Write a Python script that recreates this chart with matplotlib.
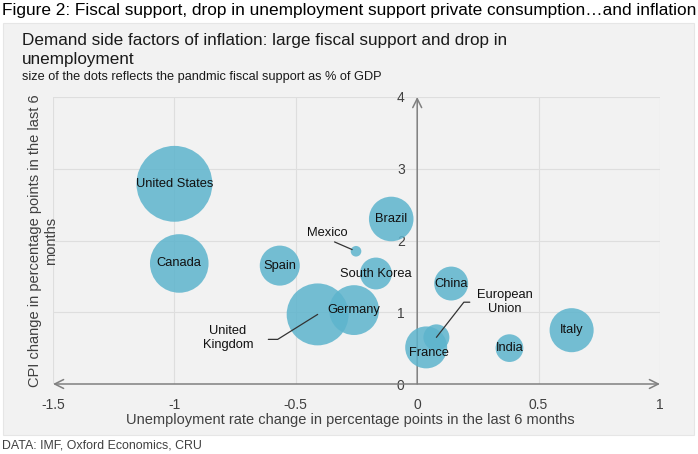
import matplotlib
matplotlib.use("Agg")
import matplotlib.pyplot as plt
from matplotlib.patches import Rectangle

plt.rcParams['font.family'] = ['Liberation Sans', 'DejaVu Sans']

# data
countries = ["United States", "Canada", "Spain", "Mexico", "Brazil", "South Korea",
             "United Kingdom", "Germany", "China", "European Union", "France", "India", "Italy"]
unemp_change = [-1.00, -0.98, -0.566, -0.252, -0.107, -0.17, -0.41, -0.26, 0.14, 0.079, 0.037, 0.38, 0.636]
cpi_change = [2.79, 1.68, 1.65, 1.85, 2.30, 1.54, 0.97, 1.03, 1.40, 0.65, 0.51, 0.50, 0.75]
fiscal_support = [25.5, 15.2, 7.1, 0.5, 8.8, 4.5, 17.0, 11.0, 5.1, 3.0, 7.8, 3.4, 8.6]

x_ticks = [-1.5, -1, -0.5, 0, 0.5, 1]
x_tick_labels = ["-1.5", "-1", "-0.5", "0", "0.5", "1"]
y_ticks = [0, 1, 2, 3, 4]

# labels that sit on the bubble vs. labels with a leader line
inline_labels = {"United States": (0, 0), "Canada": (0, 0), "Spain": (0, 0), "Brazil": (0, 0),
                 "South Korea": (0, 0), "Germany": (0, 0), "China": (0, 0), "France": (0.01, -0.08),
                 "India": (0, 0), "Italy": (0, 0)}
callouts = {"Mexico": ("Mexico", (-0.372, 2.11)),
            "United Kingdom": ("United\nKingdom", (-0.78, 0.64)),
            "European Union": ("European\nUnion", (0.36, 1.14))}

W, H = 698, 454
fig = plt.figure(figsize=(W / 100, H / 100), dpi=100)
fig.patches.append(Rectangle((3 / W, 1 - 435 / H), 691 / W, 412 / H, transform=fig.transFigure,
                             facecolor="#f2f2f2", edgecolor="#e6e6e6", lw=0.8, zorder=-5))

ax = fig.add_axes([53 / W, 1 - 384 / H, 607 / W, 287 / H])
ax.set_facecolor("none")

bubble_size = [v * 117 for v in fiscal_support]
ax.scatter(unemp_change, cpi_change, s=bubble_size, color="#5db4cd", alpha=0.85,
           edgecolors="none", zorder=3)

for name, x, y in zip(countries, unemp_change, cpi_change):
    if name in inline_labels:
        dx, dy = inline_labels[name]
        ax.text(x + dx, y + dy, name, ha="center", va="center", fontsize=9.3, color="#111111", zorder=4)
    else:
        text, pos = callouts[name]
        if name == "Mexico":
            arrow = dict(connectionstyle="arc3", relpos=(0.5, 0), shrinkA=1, shrinkB=3)
        elif name == "United Kingdom":
            arrow = dict(connectionstyle="angle,angleA=0,angleB=32,rad=0", relpos=(1, 0.45),
                         shrinkA=9, shrinkB=0)
        else:
            arrow = dict(connectionstyle="angle,angleA=0,angleB=52,rad=0", relpos=(0, 0.5),
                         shrinkA=3, shrinkB=0)
        ax.annotate(text, xy=(x, y), xytext=pos, ha="center", va="center", fontsize=9.3,
                    color="#111111", zorder=4,
                    arrowprops=dict(arrowstyle="-", color="#333333", lw=0.9, **arrow))

ax.set_xlim(-1.5, 1)
ax.set_ylim(0, 4)
ax.set_xticks(x_ticks)
ax.set_xticklabels(x_tick_labels)
ax.set_yticks(y_ticks)
ax.grid(True, color="#dedede", lw=0.8, zorder=0)
ax.set_axisbelow(True)
for s in ax.spines.values():
    s.set_visible(False)
ax.spines["left"].set_position(("data", 0))
ax.tick_params(axis="both", length=0, labelsize=10, colors="#404040")
ax.tick_params(axis="x", pad=10)
ax.tick_params(axis="y", pad=9)

# axis arrows
ax.annotate("", xy=(1, 0), xytext=(-1.5, 0),
            arrowprops=dict(arrowstyle="<->", color="#808080", lw=1.1, mutation_scale=16,
                            shrinkA=0, shrinkB=0), zorder=2)
ax.annotate("", xy=(0, 4), xytext=(0, 0),
            arrowprops=dict(arrowstyle="->", color="#808080", lw=1.1, mutation_scale=16,
                            shrinkA=0, shrinkB=0), zorder=2)

fig.text(2 / W, 1 - 10 / H, "Figure 2: Fiscal support, drop in unemployment support private consumption\u2026and inflation",
         ha="left", va="center", fontsize=12.4, color="#000000")
fig.text(22 / W, 1 - 33 / H, "Demand side factors of inflation: large fiscal support and drop in\nunemployment",
         ha="left", va="top", fontsize=12.3, color="#1a1a1a", linespacing=1.37)
fig.text(22 / W, 1 - 77 / H, "size of the dots reflects the pandmic fiscal support as % of GDP",
         ha="left", va="center", fontsize=9.2, color="#1a1a1a")
fig.text(43 / W, 1 - 241 / H, "CPI change in percentage points in the last 6\nmonths",
         rotation=90, ha="center", va="center", multialignment="center", fontsize=10.5, color="#404040")
fig.text(350 / W, 1 - 420 / H, "Unemployment rate change in percentage points in the last 6 months",
         ha="center", va="center", fontsize=10.5, color="#404040")
fig.text(2 / W, 1 - 446 / H, "DATA: IMF, Oxford Economics, CRU", ha="left", va="center",
         fontsize=8.9, color="#404040")

fig.savefig("out.png", dpi=100)
